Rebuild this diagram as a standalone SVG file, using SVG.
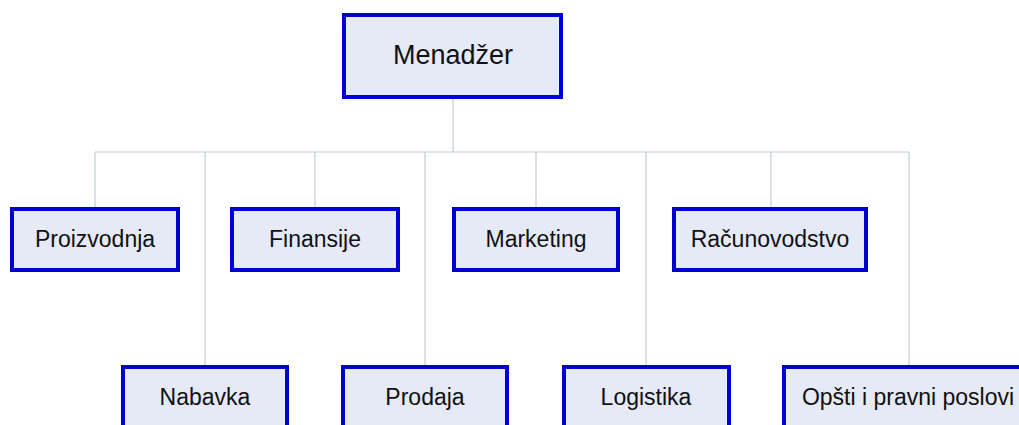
<svg xmlns="http://www.w3.org/2000/svg" width="1019" height="425" viewBox="0 0 1019 425">
<style>
.box{fill:#e6eaf6;stroke:#0000d2;stroke-width:4}
.t{font-family:"Liberation Sans",Arial,sans-serif;font-size:23px;fill:#111;text-anchor:middle}
.c{stroke:#c4ccd4;stroke-width:1.2;fill:none}
</style>
<rect width="1019" height="425" fill="#fff"/>
<g id="connectors">
<path class="c" d="M453 99V152M95 152H909M95 152V207M315 152V207M536 152V207M771 152V207M205 152V365M425 152V365M646 152V365M909 152V365"/>
</g>
<g id="menadzer"><rect class="box" x="344" y="15" width="217" height="82"/><text class="t" x="453" y="64" style="font-size:27px">Menadžer</text></g>
<g id="proizvodnja"><rect class="box" x="12" y="209" width="166" height="61"/><text class="t" x="95" y="247">Proizvodnja</text></g>
<g id="finansije"><rect class="box" x="232" y="209" width="166" height="61"/><text class="t" x="315" y="247">Finansije</text></g>
<g id="marketing"><rect class="box" x="454" y="209" width="164" height="61"/><text class="t" x="536" y="247">Marketing</text></g>
<g id="racunovodstvo"><rect class="box" x="674" y="209" width="192" height="61"/><text class="t" x="770" y="247">Računovodstvo</text></g>
<g id="nabavka"><rect class="box" x="123" y="367" width="164" height="70"/><text class="t" x="205" y="405">Nabavka</text></g>
<g id="prodaja"><rect class="box" x="343" y="367" width="164" height="70"/><text class="t" x="425" y="405">Prodaja</text></g>
<g id="logistika"><rect class="box" x="564" y="367" width="165" height="70"/><text class="t" x="646" y="405">Logistika</text></g>
<g id="opsti"><rect class="box" x="784" y="367" width="250" height="70"/><text class="t" x="908" y="405">Opšti i pravni poslovi</text></g>
</svg>
